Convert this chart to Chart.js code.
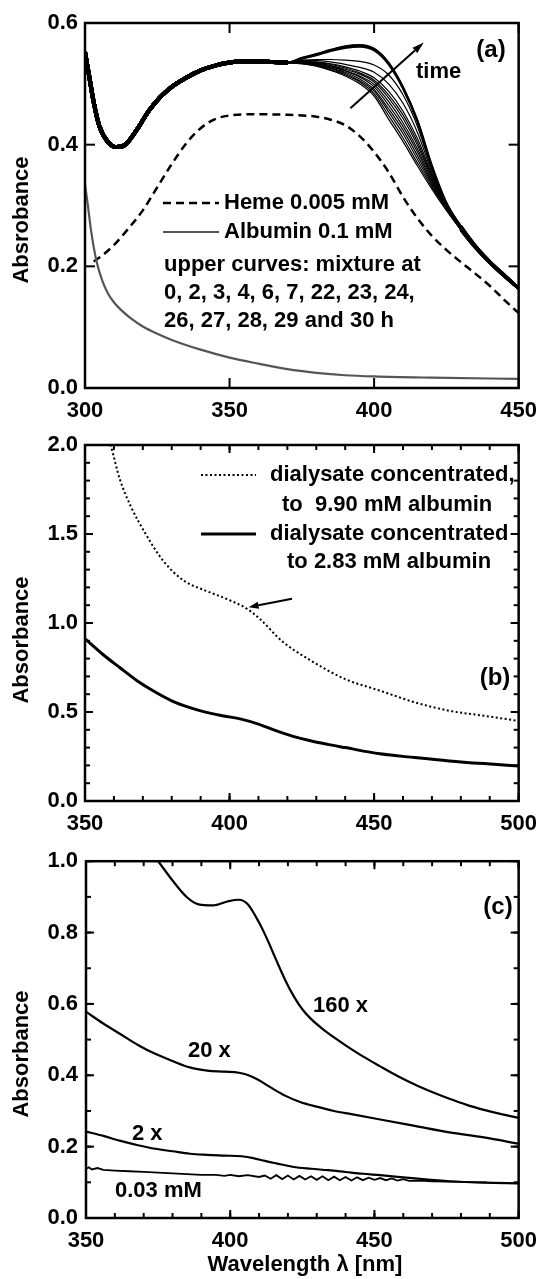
<!DOCTYPE html>
<html><head><meta charset="utf-8">
<script src="https://cdn.jsdelivr.net/npm/chart.js@4.4.1/dist/chart.umd.min.js"></script>
<style>html,body{margin:0;padding:0;background:#fff;}canvas{display:block;}</style>
</head><body>
<canvas id="ca" width="547" height="420"></canvas>
<canvas id="cb" width="547" height="420"></canvas>
<canvas id="cc" width="547" height="439"></canvas>
<script>
// ---------- Panel (a) data ----------
const lamHeme = [303, 306, 310, 315, 320, 325, 330, 335, 340, 345, 350, 360, 370, 380, 385, 390, 395, 400, 405, 410, 415, 420, 425, 430, 435, 440, 445, 450];
const heme    = [0.208, 0.218, 0.235, 0.262, 0.292, 0.330, 0.368, 0.402, 0.427, 0.442, 0.448, 0.450, 0.449, 0.446, 0.441, 0.432, 0.414, 0.388, 0.355, 0.314, 0.279, 0.250, 0.227, 0.207, 0.188, 0.168, 0.145, 0.123];
const lamAlb  = [300, 301, 302, 303, 304, 306, 308, 310, 313, 316, 320, 325, 330, 340, 350, 360, 370, 380, 390, 400, 420, 450];
const albumin = [0.335, 0.300, 0.262, 0.232, 0.208, 0.176, 0.155, 0.141, 0.126, 0.114, 0.101, 0.089, 0.079, 0.063, 0.050, 0.040, 0.031, 0.025, 0.021, 0.019, 0.017, 0.015];
const lamMixHead = [300, 301, 302, 303, 305, 308, 311, 314, 318, 322, 326, 330, 335, 340, 345, 350, 355, 360, 365, 370];
const mixHead    = [0.552, 0.525, 0.497, 0.470, 0.430, 0.404, 0.396, 0.400, 0.425, 0.455, 0.478, 0.495, 0.510, 0.522, 0.530, 0.535, 0.537, 0.537, 0.536, 0.535];
const lamMixTail = [375, 380, 385, 390, 395, 400, 405, 410, 415, 420, 425, 430, 435, 440, 445, 450];
const mixHours = [0, 2, 3, 4, 6, 7, 22, 23, 24, 26, 27, 28, 29, 30];
const mix_0h  = [0.533, 0.529, 0.522, 0.513, 0.500, 0.480, 0.442, 0.405, 0.365, 0.327, 0.292, 0.260, 0.231, 0.206, 0.184, 0.164];
const mix_2h  = [0.533, 0.530, 0.523, 0.515, 0.503, 0.484, 0.448, 0.411, 0.370, 0.330, 0.293, 0.260, 0.231, 0.206, 0.184, 0.164];
const mix_3h  = [0.534, 0.531, 0.525, 0.517, 0.505, 0.488, 0.454, 0.418, 0.376, 0.333, 0.294, 0.261, 0.231, 0.206, 0.184, 0.164];
const mix_4h  = [0.534, 0.532, 0.526, 0.519, 0.508, 0.491, 0.459, 0.424, 0.382, 0.336, 0.295, 0.261, 0.231, 0.206, 0.184, 0.164];
const mix_6h  = [0.535, 0.533, 0.528, 0.521, 0.511, 0.495, 0.465, 0.430, 0.388, 0.339, 0.296, 0.262, 0.232, 0.207, 0.185, 0.164];
const mix_7h  = [0.535, 0.533, 0.529, 0.522, 0.513, 0.499, 0.471, 0.436, 0.393, 0.342, 0.297, 0.262, 0.232, 0.207, 0.185, 0.164];
const mix_22h = [0.536, 0.534, 0.530, 0.524, 0.516, 0.503, 0.477, 0.443, 0.399, 0.345, 0.298, 0.263, 0.232, 0.207, 0.185, 0.164];
const mix_23h = [0.536, 0.535, 0.532, 0.526, 0.518, 0.506, 0.482, 0.449, 0.404, 0.348, 0.299, 0.263, 0.232, 0.207, 0.185, 0.164];
const mix_24h = [0.537, 0.536, 0.533, 0.528, 0.521, 0.510, 0.488, 0.455, 0.410, 0.351, 0.300, 0.264, 0.233, 0.207, 0.185, 0.164];
const mix_26h = [0.538, 0.538, 0.536, 0.532, 0.527, 0.519, 0.500, 0.468, 0.420, 0.355, 0.301, 0.264, 0.233, 0.207, 0.185, 0.164];
const mix_27h = [0.539, 0.540, 0.540, 0.539, 0.537, 0.531, 0.515, 0.482, 0.430, 0.359, 0.302, 0.265, 0.233, 0.208, 0.185, 0.164];
const mix_28h = [0.541, 0.547, 0.554, 0.559, 0.561, 0.555, 0.532, 0.492, 0.437, 0.362, 0.303, 0.265, 0.234, 0.208, 0.186, 0.164];
const mix_29h = [0.542, 0.548, 0.555, 0.561, 0.563, 0.557, 0.534, 0.494, 0.439, 0.364, 0.304, 0.266, 0.234, 0.208, 0.186, 0.164];
const mix_30h = [0.543, 0.549, 0.556, 0.562, 0.564, 0.558, 0.535, 0.495, 0.440, 0.366, 0.305, 0.266, 0.234, 0.208, 0.186, 0.164];
const mixTails = [mix_0h, mix_2h, mix_3h, mix_4h, mix_6h, mix_7h, mix_22h, mix_23h, mix_24h, mix_26h, mix_27h, mix_28h, mix_29h, mix_30h];

// ---------- Panel (b) data ----------
const lamB990 = [356, 359, 362, 366, 371, 377, 384, 392, 399, 406, 411, 418, 428, 440, 452, 464, 476, 488, 500];
const absB990 = [2.12, 1.99, 1.81, 1.65, 1.50, 1.35, 1.24, 1.18, 1.135, 1.08, 1.015, 0.90, 0.79, 0.685, 0.62, 0.555, 0.507, 0.479, 0.45];
const lamB283 = [350, 356, 362, 368, 374, 380, 386, 392, 398, 404, 410, 416, 422, 428, 434, 440, 452, 464, 476, 488, 500];
const absB283 = [0.911, 0.826, 0.750, 0.676, 0.615, 0.563, 0.526, 0.498, 0.478, 0.460, 0.432, 0.395, 0.363, 0.338, 0.318, 0.300, 0.265, 0.244, 0.225, 0.210, 0.197];

// ---------- Panel (c) data ----------
const lam160 = [372, 375, 380, 385, 389, 394, 399, 403, 406, 410, 413, 416, 419, 422, 425, 428, 432, 436, 440, 446, 452, 458, 464, 470, 476, 482, 488, 494, 500];
const abs160 = [1.03, 1.0, 0.946, 0.899, 0.879, 0.876, 0.887, 0.892, 0.880, 0.828, 0.778, 0.722, 0.668, 0.622, 0.585, 0.558, 0.530, 0.506, 0.484, 0.453, 0.425, 0.398, 0.374, 0.353, 0.334, 0.317, 0.303, 0.291, 0.281];
const lam20 = [350, 356, 362, 368, 374, 380, 386, 392, 398, 403, 407, 410, 414, 419, 424, 430, 436, 442, 452, 464, 476, 488, 500];
const abs20 = [0.578, 0.545, 0.515, 0.485, 0.46, 0.44, 0.422, 0.413, 0.41, 0.407, 0.398, 0.386, 0.366, 0.343, 0.326, 0.312, 0.300, 0.291, 0.276, 0.258, 0.240, 0.226, 0.208];
const lam2 = [350, 356, 362, 368, 374, 380, 386, 392, 398, 404, 408, 412, 416, 422, 428, 434, 440, 446, 452, 464, 476, 488, 500];
const abs2 = [0.242, 0.230, 0.216, 0.204, 0.194, 0.187, 0.180, 0.177, 0.175, 0.173, 0.168, 0.160, 0.153, 0.143, 0.138, 0.134, 0.129, 0.124, 0.120, 0.111, 0.103, 0.099, 0.097];
const lam003 = [350, 351, 352, 354, 356, 360, 365, 370, 375, 380, 385, 390, 395, 398, 400, 403, 406, 410, 412, 414, 416, 418, 420, 422, 424, 426, 428, 430, 432, 434, 436, 438, 440, 442, 444, 446, 448, 450, 452, 454, 456, 458, 460, 462, 466, 470, 475, 480, 485, 489];
const abs003 = [0.138, 0.142, 0.136, 0.140, 0.135, 0.133, 0.131, 0.129, 0.127, 0.125, 0.123, 0.121, 0.121, 0.118, 0.121, 0.117, 0.120, 0.115, 0.119, 0.110, 0.120, 0.109, 0.119, 0.108, 0.118, 0.108, 0.117, 0.107, 0.117, 0.106, 0.116, 0.106, 0.115, 0.105, 0.114, 0.106, 0.113, 0.107, 0.112, 0.106, 0.111, 0.105, 0.109, 0.104, 0.105, 0.103, 0.102, 0.101, 0.100, 0.100];

// ---------- helpers ----------
const FONT = '"Liberation Sans", Arial, Helvetica, sans-serif';
Chart.defaults.font.family = FONT;
Chart.defaults.font.weight = 'bold';
Chart.defaults.font.size = 22;
Chart.defaults.color = '#000';

const pts = (xs, ys) => xs.map((x, i) => ({x, y: ys[i]}));

function line(ctx, x1, y1, x2, y2) { ctx.beginPath(); ctx.moveTo(x1, y1); ctx.lineTo(x2, y2); ctx.stroke(); }
function txt(ctx, s, x, y, align, size) {
  ctx.font = 'bold ' + (size || 22) + 'px ' + FONT;
  ctx.fillStyle = '#000'; ctx.textAlign = align || 'left'; ctx.textBaseline = 'middle';
  ctx.fillText(s, x, y);
}
function vtxt(ctx, s, x, y) {
  ctx.save(); ctx.translate(x, y); ctx.rotate(-Math.PI / 2);
  txt(ctx, s, 0, 0, 'center', 22); ctx.restore();
}
function arrow(ctx, x1, y1, x2, y2, head, half, w) {
  ctx.save(); ctx.strokeStyle = '#000'; ctx.fillStyle = '#000'; ctx.lineWidth = w;
  const a = Math.atan2(y2 - y1, x2 - x1);
  const bx = x2 - head * Math.cos(a), by = y2 - head * Math.sin(a);
  line(ctx, x1, y1, bx, by);
  ctx.beginPath(); ctx.moveTo(x2, y2);
  ctx.lineTo(bx + half * Math.sin(a), by - half * Math.cos(a));
  ctx.lineTo(bx - half * Math.sin(a), by + half * Math.cos(a));
  ctx.closePath(); ctx.fill(); ctx.restore();
}

const framePlugin = {
  id: 'frame',
  afterDatasetsDraw(chart, _args, o) {
    const {ctx, chartArea: ca, scales: {x, y}} = chart;
    ctx.save(); ctx.strokeStyle = '#000'; ctx.lineWidth = 2;
    const xt = (v, len) => { const p = x.getPixelForValue(v); line(ctx, p, ca.bottom, p, ca.bottom - len); line(ctx, p, ca.top, p, ca.top + len); };
    const yt = (v, len) => { const p = y.getPixelForValue(v); line(ctx, ca.left, p, ca.left + len, p); line(ctx, ca.right, p, ca.right - len, p); };
    if (o.xMinor) for (let v = x.min; v <= x.max + 1e-9; v += o.xMinor) xt(v, o.minorLen);
    if (o.yMinor) for (let v = y.min; v <= y.max + 1e-9; v += o.yMinor) yt(v, o.minorLen);
    x.ticks.forEach(t => xt(t.value, o.majorLen));
    y.ticks.forEach(t => yt(t.value, o.majorLen));
    ctx.lineWidth = 2.5;
    ctx.strokeRect(ca.left, ca.top, ca.right - ca.left, ca.bottom - ca.top);
    ctx.restore();
  }
};

function makeChart(id, datasets, xr, yr, lay, frameOpts, annot) {
  return new Chart(document.getElementById(id), {
    type: 'line',
    data: {datasets},
    options: {
      responsive: false, maintainAspectRatio: false, animation: false, devicePixelRatio: 1,
      layout: {autoPadding: false, padding: {left: 0, right: lay.right, top: lay.top, bottom: 0}},
      elements: {point: {radius: 0}, line: {fill: false, borderColor: '#000', cubicInterpolationMode: 'monotone'}},
      plugins: {legend: {display: false}, tooltip: {enabled: false}, frame: frameOpts},
      scales: {
        x: {type: 'linear', min: xr[0], max: xr[1],
            ticks: {stepSize: xr[2], padding: lay.xPad, maxRotation: 0, autoSkip: false, color: '#000'},
            grid: {display: false, drawTicks: false}, border: {display: false},
            afterFit(s) { s.height = lay.xH; }},
        y: {type: 'linear', min: yr[0], max: yr[1],
            ticks: {stepSize: yr[2], padding: lay.yPad, color: '#000', callback: v => Number(v).toFixed(1)},
            grid: {display: false, drawTicks: false}, border: {display: false},
            afterFit(s) { s.width = lay.yW; }}
      }
    },
    plugins: [framePlugin, {id: 'annot' + id, afterDraw(chart) { annot(chart, chart.ctx, chart.scales.x, chart.scales.y); }}]
  });
}

// ---------- Panel (a) ----------
const dsA = [
  {data: pts(lamAlb, albumin), borderColor: '#555', borderWidth: 2.2},
  {data: pts(lamHeme, heme), borderColor: '#000', borderWidth: 2.5, borderDash: [8, 5]}
];
mixTails.forEach((tail, i) => {
  const h = mixHours[i];
  dsA.push({
    data: pts(lamMixHead.concat(lamMixTail), mixHead.concat(tail)),
    borderColor: '#000', borderWidth: 1.3,
    segment: {borderWidth: c => c.p1.parsed.x <= 372 ? 4 : (c.p0.parsed.x >= 430 ? 3 : (h >= 28 ? 1.9 : 1.2))}
  });
});
makeChart('ca', dsA, [300, 450, 50], [0, 0.6, 0.2],
  {right: 24, top: 23, xH: 32, yW: 85, xPad: 10, yPad: 7},
  {majorLen: 10},
  (chart, ctx, x, y) => {
    txt(ctx, '(a)', 491, 50, 'center', 24);
    txt(ctx, 'time', 416, 72, 'left');
    arrow(ctx, x.getPixelForValue(391.8), y.getPixelForValue(0.46), x.getPixelForValue(417.2), y.getPixelForValue(0.568), 12, 3.5, 2);
    ctx.save(); ctx.strokeStyle = '#000'; ctx.lineWidth = 2.5; ctx.setLineDash([8, 5]);
    line(ctx, 163, 203, 219, 203); ctx.setLineDash([]);
    ctx.strokeStyle = '#555'; ctx.lineWidth = 2; line(ctx, 163, 232, 219, 232); ctx.restore();
    txt(ctx, 'Heme 0.005 mM', 224, 203);
    txt(ctx, 'Albumin 0.1 mM', 224, 232);
    txt(ctx, 'upper curves: mixture at', 164, 265);
    txt(ctx, '0, 2, 3, 4, 6, 7, 22, 23, 24,', 164, 293);
    txt(ctx, '26, 27, 28, 29 and 30 h', 164, 321);
    vtxt(ctx, 'Absrobance', 22, 220);
  });

// ---------- Panel (b) ----------
const OB = 420;
makeChart('cb', [
  {data: pts(lamB990, absB990), borderWidth: 2, borderDash: [2, 2.5]},
  {data: pts(lamB283, absB283), borderWidth: 3}
], [350, 500, 50], [0, 2.0, 0.5],
  {right: 24, top: 25, xH: 39, yW: 85, xPad: 10, yPad: 7},
  {majorLen: 8, minorLen: 5, xMinor: 10, yMinor: 0.1},
  (chart, ctx, x, y) => {
    ctx.save(); ctx.strokeStyle = '#000'; ctx.lineWidth = 2; ctx.setLineDash([2, 2.5]);
    line(ctx, 201, 475 - OB, 256, 475 - OB); ctx.setLineDash([]); ctx.lineWidth = 3;
    line(ctx, 201, 534 - OB, 256, 534 - OB); ctx.restore();
    txt(ctx, 'dialysate concentrated,', 270, 475 - OB);
    txt(ctx, 'to  9.90 mM albumin', 282, 505 - OB);
    txt(ctx, 'dialysate concentrated', 270, 534 - OB);
    txt(ctx, 'to 2.83 mM albumin', 287, 562 - OB);
    txt(ctx, '(b)', 495, 678 - OB, 'center', 24);
    arrow(ctx, x.getPixelForValue(421.6), y.getPixelForValue(1.136), x.getPixelForValue(406.6), y.getPixelForValue(1.089), 10, 3.5, 2);
    vtxt(ctx, 'Absorbance', 22, 640 - OB);
  });

// ---------- Panel (c) ----------
const OC = 840;
makeChart('cc', [
  {data: pts(lam160, abs160), borderWidth: 2.2},
  {data: pts(lam20, abs20), borderWidth: 2.2},
  {data: pts(lam2, abs2), borderWidth: 2.2},
  {data: pts(lam003, abs003), borderWidth: 1.8, cubicInterpolationMode: 'default', tension: 0}
], [350, 500, 50], [0, 1.0, 0.2],
  {right: 24, top: 19, xH: 61, yW: 86, xPad: 10, yPad: 8},
  {majorLen: 8, minorLen: 5, xMinor: 10, yMinor: 0.1},
  (chart, ctx, x, y) => {
    txt(ctx, '(c)', 498, 907 - OC, 'center', 24);
    txt(ctx, '160 x', 313, 1006 - OC);
    txt(ctx, '20 x', 188, 1051 - OC);
    txt(ctx, '2 x', 132, 1134 - OC);
    txt(ctx, '0.03 mM', 115, 1191 - OC);
    vtxt(ctx, 'Absorbance', 22, 1054 - OC);
    txt(ctx, 'Wavelength \u03bb [nm]', 305, 1265 - OC, 'center');
  });
</script>
</body></html>
